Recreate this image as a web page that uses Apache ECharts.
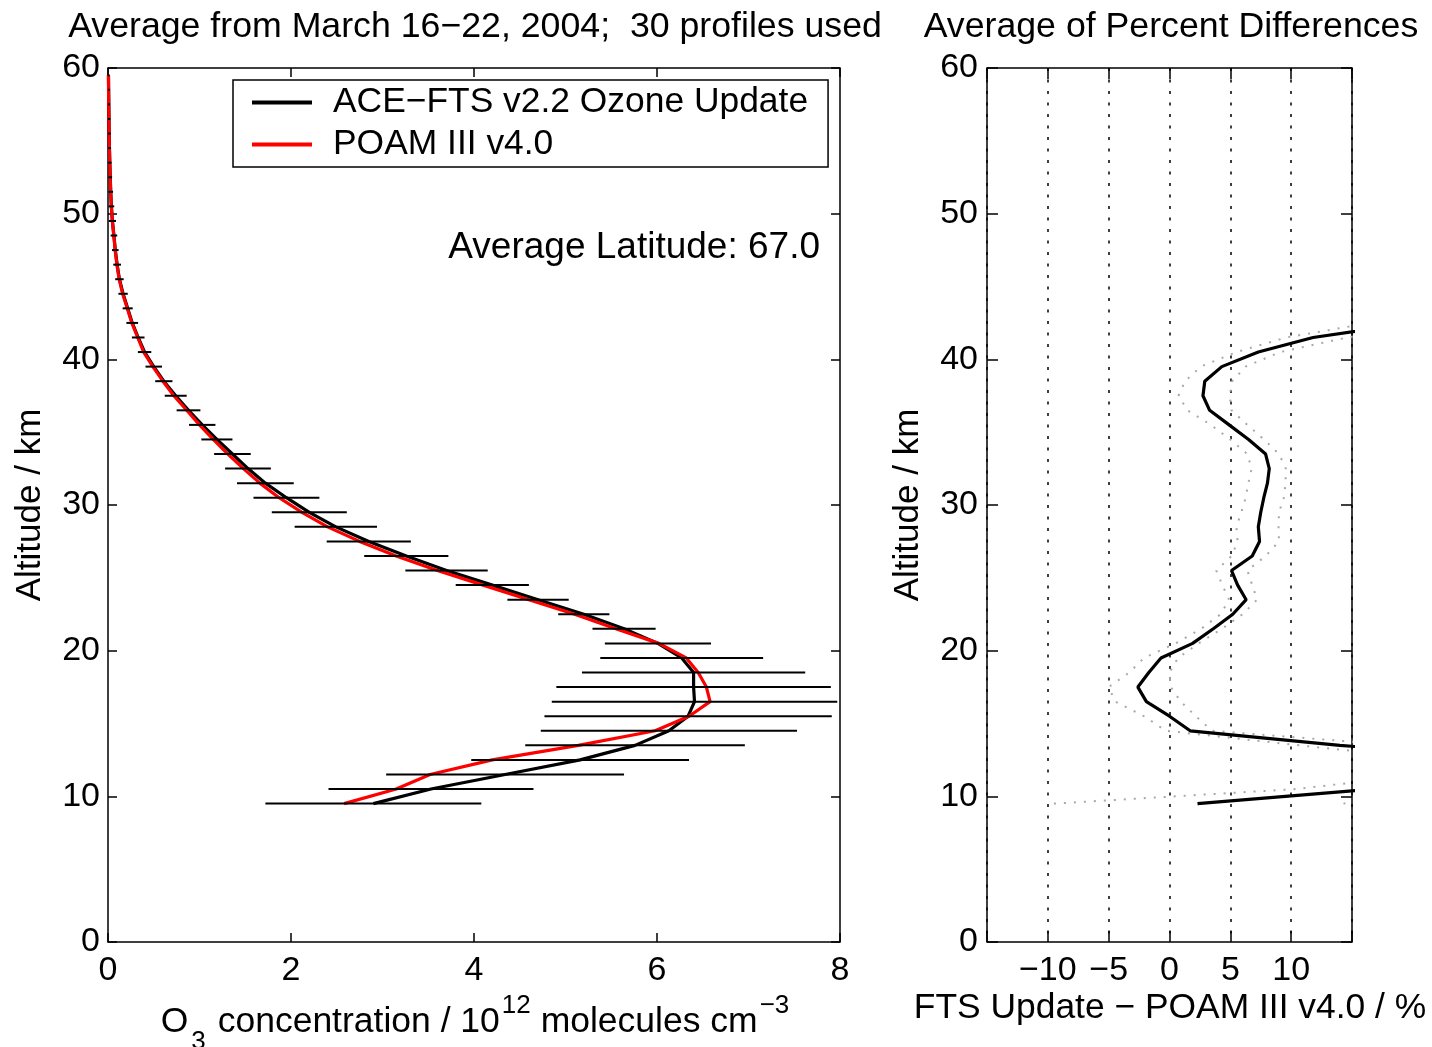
<!DOCTYPE html>
<html><head><meta charset="utf-8">
<script src="https://cdn.jsdelivr.net/npm/echarts@6/dist/echarts.min.js"></script>
<style>html,body{margin:0;padding:0;background:#fff}#c{width:1432px;height:1047px}</style>
</head><body><div id="c"></div>
<script>
// ---- Data ----
// Left panel: altitude grid (km)
const altitude = [9.5,10.5,11.5,12.5,13.5,14.5,15.5,16.5,17.5,18.5,19.5,20.5,21.5,22.5,23.5,24.5,25.5,26.5,27.5,28.5,29.5,30.5,31.5,32.5,33.5,34.5,35.5,36.5,37.5,38.5,39.5,40.5,41.5,42.5,43.5,44.5,45.5,46.5,47.5,48.5,49.5,50.5,51.5,52.5,53.5,54.5,55.5,56.5,57.5,58.5,59.5];
// ACE-FTS v2.2 Ozone Update (10^12 molecules cm^-3)
const aceFts = [2.90,3.53,4.34,5.16,5.76,6.13,6.34,6.41,6.40,6.40,6.27,6.01,5.64,5.20,4.70,4.20,3.70,3.26,2.85,2.49,2.20,1.95,1.72,1.53,1.36,1.19,1.03,0.88,0.74,0.61,0.50,0.40,0.33,0.265,0.215,0.165,0.125,0.100,0.080,0.065,0.048,0.037,0.030,0.025,0.020,0.016,0.013,0.011,0.009,0.007,0.005];
// ACE-FTS standard deviation (half-width of horizontal bars)
const aceErr = [1.18,1.12,1.30,1.19,1.20,1.40,1.57,1.56,1.50,1.22,0.89,0.58,0.345,0.28,0.335,0.40,0.45,0.46,0.46,0.45,0.41,0.36,0.31,0.25,0.20,0.17,0.144,0.13,0.12,0.094,0.09,0.073,0.069,0.064,0.055,0.051,0.046,0.042,0.036,0.036,0.040,0.031,0.025,0.020,0.018,0.016,0.015,0.014,0.013,0.012,0.012];
// POAM III v4.0
const poam = [2.58,3.15,3.52,4.20,5.14,5.98,6.35,6.58,6.54,6.45,6.32,6.02,5.55,5.10,4.60,4.10,3.60,3.15,2.75,2.40,2.12,1.87,1.66,1.48,1.31,1.15,1.00,0.86,0.72,0.60,0.49,0.39,0.325,0.26,0.21,0.16,0.122,0.097,0.078,0.063,0.047,0.036,0.029,0.024,0.019,0.015,0.012,0.010,0.008,0.006,0.005];

// Right panel: average of percent differences (%)
const diffAltitude = [9.5,10.5,11.5,12.5,13.5,14.5,15.5,16.5,17.5,18.5,19.5,20.5,21.5,22.5,23.5,24.5,25.5,26.5,27.5,28.5,29.5,30.5,31.5,32.5,33.5,34.5,35.5,36.5,37.5,38.5,39.5,40.5,41.5,42.5];
const diffMean = [2.3,16.7,25,30,14.0,1.7,0.0,-1.9,-2.6,-1.7,-0.7,1.9,3.6,5.2,6.3,5.6,5.1,6.8,7.4,7.3,7.5,7.75,8.05,8.2,7.9,6.5,4.9,3.3,2.75,2.9,4.3,7.3,11.8,20];
const diffLow = [-9.5,10.4,21,22,10.7,-0.3,-2.1,-4.45,-5.0,-3.3,-2.1,0.5,2.6,4.2,4.9,4.34,3.85,5.1,5.6,5.5,5.9,6.26,6.48,6.75,6.4,5.0,3.4,1.48,0.74,1.28,2.57,5.5,9.6,16.5];
const diffHigh = [14.3,23,35,35,18.8,3.5,2.16,0.93,0.1,0.0,0.7,2.4,4.3,6.0,7.2,6.8,6.4,7.9,9.0,8.96,9.0,9.4,9.54,9.56,9.0,7.76,6.4,5.1,4.95,5.16,6.25,9.1,14.6,25];

// Tick labels
const diffTickLabels = [-10,-5,0,5,10];

// ---- Chart ----
const F = "'Liberation Sans', Arial, Helvetica, sans-serif";
const pairs = (xs, ys) => xs.map((x, i) => [x, ys[i]]);
const noLine = {show: false, onZero: false};
const tickStyle = {inside: true, length: 9, lineStyle: {color: '#000', width: 1.5}};
const tickStyle2 = {inside: true, length: 11, lineStyle: {color: '#000', width: 1.5}};
const labelStyle = {color: '#000', fontSize: 34, fontFamily: F};
const T = 'middle';

const chart = echarts.init(document.getElementById('c'), null, {renderer: 'canvas'});
const option = {
  animation: false,
  backgroundColor: '#fff',
  grid: [
    {left: 108, top: 68, width: 732, height: 874, show: true, borderColor: '#000', borderWidth: 1.5, containLabel: false},
    {left: 987, top: 68, width: 365, height: 874, show: true, borderColor: '#000', borderWidth: 1.5, containLabel: false}
  ],
  xAxis: [
    {type: 'value', gridIndex: 0, position: 'bottom', min: 0, max: 8, interval: 2,
     axisLine: noLine, axisTick: tickStyle, splitLine: {show: false},
     axisLabel: Object.assign({margin: 12}, labelStyle)},
    {type: 'value', gridIndex: 0, position: 'top', min: 0, max: 8, interval: 2,
     axisLine: noLine, axisTick: tickStyle, splitLine: {show: false}, axisLabel: {show: false}},
    {type: 'value', gridIndex: 1, position: 'bottom', min: -15, max: 15, interval: 5,
     axisLine: noLine, axisTick: tickStyle2,
     splitLine: {show: true, lineStyle: {color: '#000', width: 1.5, type: [3, 8.5]}},
     axisLabel: Object.assign({margin: 12,
       formatter: v => diffTickLabels.indexOf(v) >= 0 ? String(v).replace('-', '\u2212') : ''}, labelStyle)},
    {type: 'value', gridIndex: 1, position: 'top', min: -15, max: 15, interval: 5,
     axisLine: noLine, axisTick: tickStyle2, splitLine: {show: false}, axisLabel: {show: false}}
  ],
  yAxis: [
    {type: 'value', gridIndex: 0, position: 'left', min: 0, max: 60, interval: 10,
     axisLine: noLine, axisTick: tickStyle, splitLine: {show: false},
     axisLabel: Object.assign({margin: 8}, labelStyle)},
    {type: 'value', gridIndex: 0, position: 'right', min: 0, max: 60, interval: 10,
     axisLine: noLine, axisTick: tickStyle, splitLine: {show: false}, axisLabel: {show: false}},
    {type: 'value', gridIndex: 1, position: 'left', min: 0, max: 60, interval: 10,
     axisLine: noLine, axisTick: tickStyle2, splitLine: {show: false},
     axisLabel: Object.assign({margin: 9}, labelStyle)},
    {type: 'value', gridIndex: 1, position: 'right', min: 0, max: 60, interval: 10,
     axisLine: noLine, axisTick: tickStyle2, splitLine: {show: false}, axisLabel: {show: false}}
  ],
  legend: {
    data: ['ACE\u2212FTS v2.2 Ozone Update', 'POAM III v4.0'],
    orient: 'vertical', left: 233, top: 80,
    icon: 'rect', itemWidth: 60, itemHeight: 4, itemGap: 7,
    padding: [5, 20, 5, 19],
    borderColor: '#000', borderWidth: 1.5, borderRadius: 0, backgroundColor: '#fff',
    textStyle: {fontSize: 35.4, fontFamily: F, color: '#000', padding: [0, 0, 0, 16]},
    selectedMode: false
  },
  series: [
    {name: 'ACE\u2212FTS v2.2 Ozone Update', type: 'line', xAxisIndex: 0, yAxisIndex: 0,
     data: pairs(aceFts, altitude), symbol: 'none', showSymbol: false, clip: true,
     lineStyle: {color: '#000', width: 3.2}, itemStyle: {color: '#000'}, z: 2},
    {name: 'POAM III v4.0', type: 'line', xAxisIndex: 0, yAxisIndex: 0,
     data: pairs(poam, altitude), symbol: 'none', showSymbol: false, clip: true,
     lineStyle: {color: '#ff0000', width: 3.2}, itemStyle: {color: '#ff0000'}, z: 3},
    {name: 'ACE error', type: 'custom', xAxisIndex: 0, yAxisIndex: 0, clip: true, z: 4,
     encode: {x: 0, y: 1},
     data: aceFts.map((v, i) => [v, altitude[i], aceErr[i]]),
     renderItem: (params, api) => {
       const x = api.value(0), y = api.value(1), e = api.value(2);
       const p1 = api.coord([x - e, y]), p2 = api.coord([x + e, y]);
       return {type: 'line', shape: {x1: p1[0], y1: p1[1], x2: p2[0], y2: p2[1]},
               style: {stroke: '#000', lineWidth: 2}};
     }},
    {name: 'diff low', type: 'line', xAxisIndex: 2, yAxisIndex: 2,
     data: pairs(diffLow, diffAltitude), symbol: 'none', showSymbol: false, clip: true,
     lineStyle: {color: '#a8a8a8', width: 2, type: [2, 8]}, z: 2},
    {name: 'diff high', type: 'line', xAxisIndex: 2, yAxisIndex: 2,
     data: pairs(diffHigh, diffAltitude), symbol: 'none', showSymbol: false, clip: true,
     lineStyle: {color: '#a8a8a8', width: 2, type: [2, 8]}, z: 2},
    {name: 'diff mean', type: 'line', xAxisIndex: 2, yAxisIndex: 2,
     data: pairs(diffMean, diffAltitude), symbol: 'none', showSymbol: false, clip: true,
     lineStyle: {color: '#000', width: 3.2}, z: 3}
  ],
  graphic: [
    {type: 'text', x: 475, y: 27, z: 10, style: {text: 'Average from March 16\u221222, 2004;  30 profiles used',
      font: '35.7px ' + F, fill: '#000', textAlign: 'center', textVerticalAlign: T, align: 'center', verticalAlign: T}},
    {type: 'text', x: 1171, y: 27, z: 10, style: {text: 'Average of Percent Differences',
      font: '35.7px ' + F, fill: '#000', textAlign: 'center', textVerticalAlign: T, align: 'center', verticalAlign: T}},
    {type: 'text', x: 820, y: 248, z: 10, style: {text: 'Average Latitude: 67.0',
      font: '37px ' + F, fill: '#000', textAlign: 'right', textVerticalAlign: T, align: 'right', verticalAlign: T}},
    {type: 'text', x: 30, y: 505, rotation: Math.PI / 2, z: 10, style: {text: 'Altitude / km',
      font: '35px ' + F, fill: '#000', textAlign: 'center', textVerticalAlign: T, align: 'center', verticalAlign: T}},
    {type: 'text', x: 908, y: 505, rotation: Math.PI / 2, z: 10, style: {text: 'Altitude / km',
      font: '35px ' + F, fill: '#000', textAlign: 'center', textVerticalAlign: T, align: 'center', verticalAlign: T}},
    {type: 'text', x: 475, y: 1022, z: 10, style: {
      text: '{b|O}{sub|3}{b| concentration / 10}{sup|12}{b| molecules cm}{sup|\u22123}',
      fill: '#000', font: '35.5px ' + F,
      rich: {
        b: {fontSize: 35.5, fontFamily: F, fill: '#000', color: '#000'},
        sub: {fontSize: 26, fontFamily: F, fill: '#000', color: '#000', padding: [40, 2, 0, 3]},
        sup: {fontSize: 26, fontFamily: F, fill: '#000', color: '#000', padding: [0, 0, 32, 2]}
      },
      textAlign: 'center', textVerticalAlign: T, align: 'center', verticalAlign: T}},
    {type: 'text', x: 1170, y: 1008, z: 10, style: {text: 'FTS Update \u2212 POAM III v4.0 / %',
      font: '35.4px ' + F, fill: '#000', textAlign: 'center', textVerticalAlign: T, align: 'center', verticalAlign: T}}
  ]
};
chart.setOption(option);
</script></body></html>
